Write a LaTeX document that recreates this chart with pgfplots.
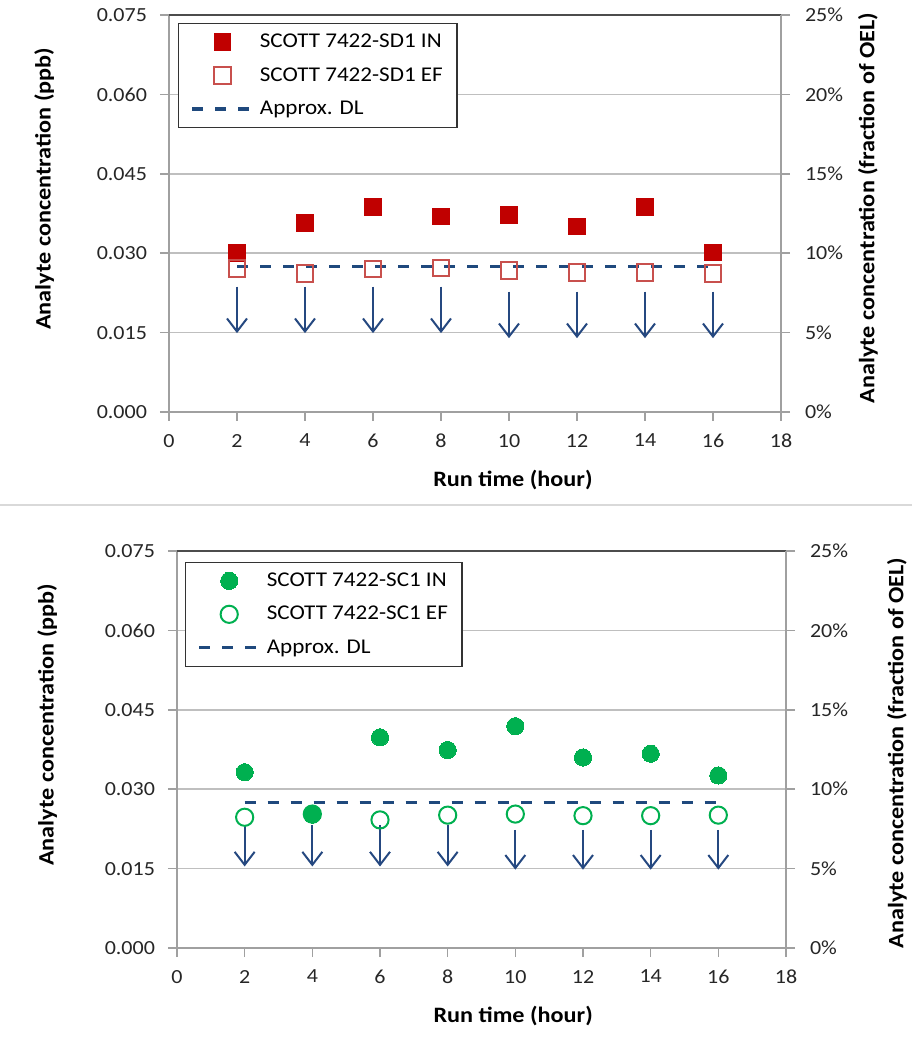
\documentclass[border=0pt]{standalone}
\usepackage{fontspec}
\setmainfont{Carlito}[FakeStretch=1.1]
\usepackage{pgfplots}
\pgfplotsset{compat=1.18}
\usetikzlibrary{arrows.meta}

\definecolor{inred}{RGB}{192,0,0}
\definecolor{efred}{RGB}{200,80,77}
\definecolor{ingreen}{RGB}{0,176,80}
\definecolor{dlblue}{RGB}{31,73,125}
\definecolor{arrblue}{RGB}{37,72,128}
\definecolor{gridgray}{RGB}{191,191,191}
\definecolor{axgray}{RGB}{160,160,160}

\newcommand{\tickfont}{\fontsize{10}{12}\selectfont}
\newcommand{\labfont}{\bfseries\fontsize{11}{13.2}\selectfont}
\newcommand{\legfont}{\fontsize{10.5}{12.6}\selectfont}

\pgfplotsset{
  panel/.style={
    scale only axis, height=198.5pt,
    xmin=0, xmax=18, ymin=0, ymax=0.075,
    xtick={0,2,...,18},
    ytick={0,0.015,0.03,0.045,0.06},
    extra y ticks={0.075},
    scaled y ticks=false,
    extra y tick style={grid style={black!70, line width=0.8pt}},
    axis lines*=left,
    axis line style={axgray, line width=0.8pt, -},
    ymajorgrids, grid style={gridgray, line width=0.8pt},
    tick align=outside, major tick length=4.5pt,
    tick style={axgray, line width=0.8pt},
    ticklabel style={font=\tickfont, text=black!85},
    yticklabel style={/pgf/number format/fixed, /pgf/number format/fixed zerofill, /pgf/number format/precision=3, /pgf/number format/assume math mode=true},
    xticklabel style={/pgf/number format/assume math mode=true},
    xticklabel shift=3pt, yticklabel shift=3pt,
    label style={font=\labfont},
    xlabel={Run time (hour)},
    ylabel={Analyte concentration (ppb)},
    legend image code/.code={\draw[mark repeat=2,mark phase=2,##1] plot coordinates {(0pt,0pt) (15pt,0pt) (30pt,0pt)};},
    legend style={anchor=north west, draw=black!80, line width=0.7pt, font=\legfont,
      inner xsep=6pt, inner ysep=3pt, row sep=4.2pt, /tikz/column sep=2pt,
      nodes={inner sep=1pt, text height=8pt, text depth=2.5pt}},
    legend cell align=left,
  },
  rightpanel/.style={
    scale only axis, height=198.5pt,
    xmin=0, xmax=18, ymin=0, ymax=25,
    axis x line=none, axis y line*=right,
    axis line style={axgray, line width=0.8pt, -},
    ytick={0,5,...,25},
    yticklabels={0\%,5\%,10\%,15\%,20\%,25\%},
    tick align=outside, major tick length=4.5pt,
    tick style={axgray, line width=0.8pt},
    ticklabel style={font=\tickfont, text=black!85},
    yticklabel shift=4pt,
    label style={font=\labfont},
    ylabel={Analyte concentration (fraction of OEL)},
  },
  inmark/.style={only marks, mark=square*, mark size=4.1pt, inred, mark options={fill=inred, draw=inred, line width=0pt}},
  efmark/.style={only marks, mark=square, mark size=4.2pt, efred, mark options={draw=efred, fill=none, line width=1pt}},
  incirc/.style={only marks, mark=*, mark size=4.3pt, ingreen, mark options={fill=ingreen, draw=ingreen, line width=0pt}},
  efcirc/.style={only marks, mark=o, mark size=4.3pt, ingreen, mark options={draw=ingreen, fill=none, line width=1pt}},
  dlline/.style={dlblue, line width=1.6pt, dash pattern=on 5.5pt off 6pt, no markers},
  arr/.style={quiver={u=\thisrow{u}, v=\thisrow{v}}, -{Straight Barb[length=6.5pt, width=10pt]}, arrblue, line width=1pt, no markers, forget plot},
}

\begin{document}
\begin{tikzpicture}
\path[use as bounding box] (0pt,0pt) rectangle (456pt,520pt);
\draw[black!15, line width=1pt] (0pt,267.5pt) -- (456pt,267.5pt);

% ---------------- Top panel ----------------
\begin{axis}[panel, at={(84.5pt,314pt)}, anchor=south west, width=306pt,
  xlabel style={at={(axis description cs:0.562,-0.171)}, anchor=center},
  ylabel style={at={(axis description cs:-0.204,0.562)}, anchor=center},
  legend style={at={(axis description cs:0.0147,0.98)}}]
\addplot[inmark] coordinates {(2,0.0300) (4,0.0357) (6,0.0387) (8,0.0369) (10,0.0372) (12,0.0350) (14,0.0387) (16,0.0301)};
\addlegendentry{SCOTT 7422-SD1 IN}
\addplot[efmark] coordinates {(2,0.0271) (4,0.0262) (6,0.0270) (8,0.0272) (10,0.0268) (12,0.0264) (14,0.0264) (16,0.0262)};
\addlegendentry{SCOTT 7422-SD1 EF}
\addplot[dlline] coordinates {(2,0.0275) (16,0.0275)};
\addlegendentry{Approx. DL}
\addplot[arr] table {
x y u v
2 0.0237 0 -0.0088
4 0.0237 0 -0.0088
6 0.0237 0 -0.0088
8 0.0237 0 -0.0088
10 0.02275 0 -0.0088
12 0.02275 0 -0.0088
14 0.02275 0 -0.0088
16 0.02275 0 -0.0088
};
\end{axis}
\begin{axis}[rightpanel, at={(84.5pt,314pt)}, anchor=south west, width=306pt,
  ylabel style={at={(axis description cs:1.142,0.514)}, anchor=center}]
\end{axis}

% ---------------- Bottom panel ----------------
\begin{axis}[panel, at={(88.5pt,46pt)}, anchor=south west, width=304.5pt,
  xlabel style={at={(axis description cs:0.552,-0.171)}, anchor=center},
  ylabel style={at={(axis description cs:-0.213,0.562)}, anchor=center},
  legend style={at={(axis description cs:0.013,0.973)}}]
\addplot[incirc] coordinates {(2,0.0332) (4,0.0252) (6,0.0398) (8,0.0374) (10,0.0419) (12,0.0360) (14,0.0367) (16,0.0326)};
\addlegendentry{SCOTT 7422-SC1 IN}
\addplot[efcirc] coordinates {(2,0.0247) (4,0.0253) (6,0.0242) (8,0.0251) (10,0.0253) (12,0.0250) (14,0.0250) (16,0.0251)};
\addlegendentry{SCOTT 7422-SC1 EF}
\addplot[dlline] coordinates {(2,0.0275) (16,0.0275)};
\addlegendentry{Approx. DL}
\addplot[arr] table {
x y u v
2 0.0232 0 -0.0078
4 0.0232 0 -0.0078
6 0.0232 0 -0.0078
8 0.0232 0 -0.0078
10 0.0223 0 -0.0075
12 0.0223 0 -0.0075
14 0.0223 0 -0.0075
16 0.0223 0 -0.0075
};
\end{axis}
\begin{axis}[rightpanel, at={(88.5pt,46pt)}, anchor=south west, width=304.5pt,
  ylabel style={at={(axis description cs:1.182,0.491)}, anchor=center}]
\end{axis}
\end{tikzpicture}
\end{document}
